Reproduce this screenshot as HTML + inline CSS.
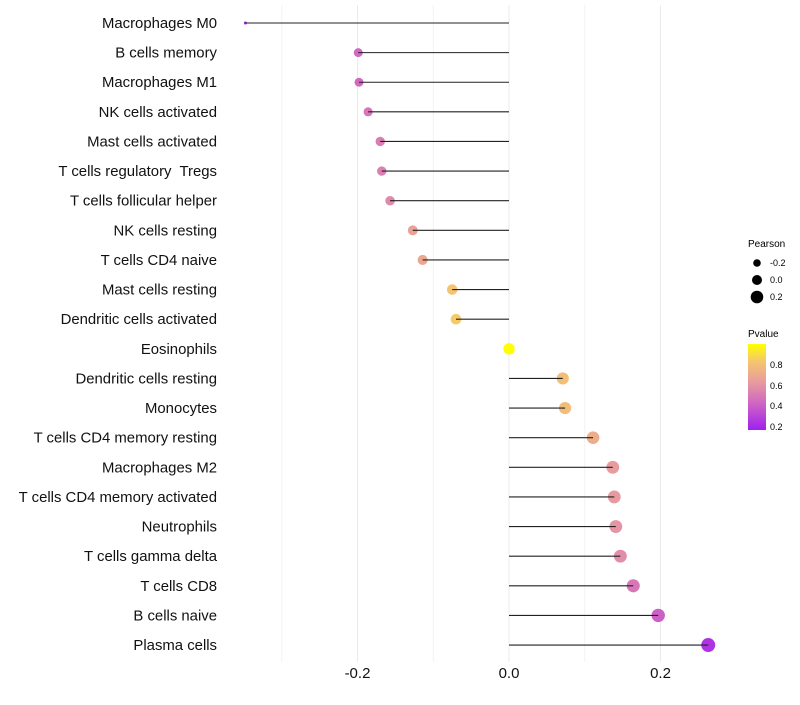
<!DOCTYPE html>
<html><head><meta charset="utf-8"><style>
body{margin:0;background:#fff;font-family:"Liberation Sans",sans-serif}
text{white-space:pre}
</style></head><body>
<svg id="c" width="800" height="700" xmlns="http://www.w3.org/2000/svg">
<defs><linearGradient id="pg" x1="0" y1="1" x2="0" y2="0">
<stop offset="0" stop-color="#A020F0"/><stop offset="0.3" stop-color="#CE63C4"/><stop offset="0.55" stop-color="#E79AA0"/><stop offset="0.8" stop-color="#F5C66E"/><stop offset="1" stop-color="#FFFF00"/></linearGradient></defs>
<g id="grid"></g>
<g id="marks"></g>
<g id="labels"></g>
<g id="xt"></g>
<g font-size="10">
<text x="748" y="247">Pearson</text>
<circle cx="757" cy="263" r="3.8" fill="#000"/><text x="770" y="266" font-size="9">-0.2</text>
<circle cx="757" cy="280" r="5" fill="#000"/><text x="770" y="283" font-size="9">0.0</text>
<circle cx="757" cy="297" r="6.3" fill="#000"/><text x="770" y="300" font-size="9">0.2</text>
</g>
<g>
<text x="748" y="337" font-size="10">Pvalue</text>
<rect x="748" y="344" width="18" height="86" fill="url(#pg)"/>
<g font-size="9"><text x="770" y="368">0.8</text><text x="770" y="389">0.6</text><text x="770" y="409">0.4</text><text x="770" y="430">0.2</text></g>
</g>
</svg>
<script>
const categories=["Macrophages M0","B cells memory","Macrophages M1","NK cells activated","Mast cells activated","T cells regulatory  Tregs","T cells follicular helper","NK cells resting","T cells CD4 naive","Mast cells resting","Dendritic cells activated","Eosinophils","Dendritic cells resting","Monocytes","T cells CD4 memory resting","Macrophages M2","T cells CD4 memory activated","Neutrophils","T cells gamma delta","T cells CD8","B cells naive","Plasma cells"];
const pearson=[-0.348,-0.199,-0.198,-0.186,-0.170,-0.168,-0.157,-0.127,-0.114,-0.075,-0.070,0.0,0.071,0.074,0.111,0.137,0.139,0.141,0.147,0.164,0.197,0.263];
const pvalue=[0.2,0.45,0.45,0.5,0.52,0.53,0.56,0.65,0.68,0.8,0.82,0.97,0.78,0.77,0.7,0.63,0.62,0.6,0.58,0.5,0.42,0.27];
const xTicks=[-0.2,0.0,0.2];
const xTickLabels=["-0.2","0.0","0.2"];
const minorTicks=[-0.3,-0.1,0.1];
const NS="http://www.w3.org/2000/svg";
const x=v=>509+v*757.5;
const y=i=>23+i*29.62;
function col(p){
 const st=[[0.2,[160,32,240]],[0.43,[206,99,196]],[0.62,[231,154,160]],[0.81,[245,198,110]],[0.97,[255,255,0]]];
 p=Math.max(0.2,Math.min(0.97,p));
 for(let k=0;k<st.length-1;k++){const a=st[k],b=st[k+1];if(p<=b[0]){const t=(p-a[0])/(b[0]-a[0]);return "rgb("+a[1].map((c,j)=>Math.round(c+(b[1][j]-c)*t)).join(",")+")";}}
 return "rgb(255,255,0)";
}
function rad(p){
 const a=32.5+62.6*p;
 if(p<-0.3) return 1.5;
 return Math.sqrt(Math.max(2.25,a));
}
function mk(t,a,p){const e=document.createElementNS(NS,t);for(const k in a)e.setAttribute(k,a[k]);p.appendChild(e);return e;}
const G=document.getElementById('grid'),M=document.getElementById('marks'),L=document.getElementById('labels'),XT=document.getElementById('xt');
minorTicks.forEach(v=>{const l=mk('line',{x1:x(v),x2:x(v),y1:5,y2:662,stroke:'#f3f3f3','stroke-width':1},G);

});
xTicks.forEach((v,i)=>{const l=mk('line',{x1:x(v),x2:x(v),y1:5,y2:662,stroke:'#ebebeb','stroke-width':1},G);


const t=mk('text',{x:x(v),y:678,'text-anchor':'middle','font-size':15,fill:'#111'},XT);t.textContent=xTickLabels[i];

});
categories.forEach((c,i)=>{
 const t=mk('text',{x:217,y:y(i)+5,'text-anchor':'end','font-size':14.9,fill:'#111'},L);t.textContent=c;
 
 
 const ci=mk('circle',{cx:x(pearson[i]),cy:y(i),r:rad(pearson[i]),fill:col(pvalue[i])},M);
 
 
 const ln=mk('line',{x1:x(0),x2:x(pearson[i]),y1:y(i),y2:y(i),stroke:'#222','stroke-width':1.1},M);
 
 
});
</script>
</body></html>
